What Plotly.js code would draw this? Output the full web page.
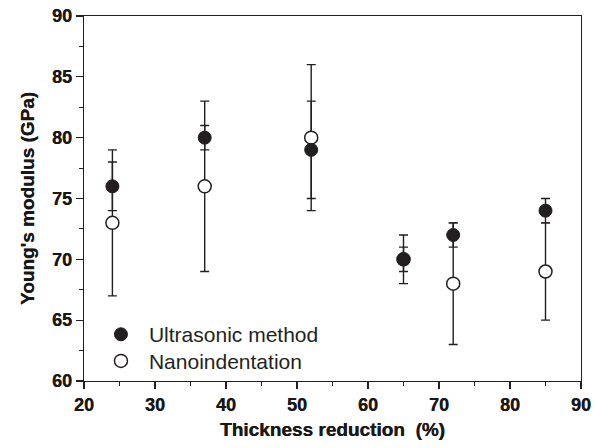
<!DOCTYPE html>
<html>
<head>
<meta charset="utf-8">
<script src="https://cdn.plot.ly/plotly-3.0.1.min.js"></script>
<style>
html,body{margin:0;padding:0;background:#fff;}
#chart{width:595px;height:448px;}
#chart .xtick text, #chart .ytick text{font-weight:700 !important;}
</style>
</head>
<body>
<div id="chart"></div>
<script>
const thickness = [24, 37, 52, 65, 72, 85];
const ultrasonic = [76, 80, 79, 70, 72, 74];
const ultrasonicErr = [2, 1, 4, 1, 1, 1];
const nano = [73, 76, 80, 70, 68, 69];
const nanoErr = [6, 7, 6, 2, 5, 4];
const seriesNames = ['Ultrasonic method', 'Nanoindentation'];
const xTickVals = [20, 30, 40, 50, 60, 70, 80, 90];
const yTickVals = [60, 65, 70, 75, 80, 85, 90];

const ink = '#231f20';
const fam = 'Liberation Sans, Arial, sans-serif';
const errStyle = {type: 'data', visible: true, color: ink, thickness: 1.4, width: 4.5};

const traces = [
  {
    x: thickness, y: ultrasonic, type: 'scatter', mode: 'markers',
    marker: {size: 1, color: 'rgba(0,0,0,0)'},
    error_y: Object.assign({array: ultrasonicErr}, errStyle),
    showlegend: false, hoverinfo: 'skip'
  },
  {
    x: thickness, y: nano, type: 'scatter', mode: 'markers', name: seriesNames[1],
    marker: {symbol: 'circle', size: 13, color: '#ffffff', line: {color: ink, width: 1.5}},
    error_y: Object.assign({array: nanoErr}, errStyle),
    legend: 'legend2'
  },
  {
    x: thickness, y: ultrasonic, type: 'scatter', mode: 'markers', name: seriesNames[0],
    marker: {symbol: 'circle', size: 13, color: ink, line: {color: ink, width: 1}},
    legend: 'legend'
  }
];

const tickFont = {family: fam, size: 18, color: '#1a1718', weight: 'bold', shadow: '0.35px 0 0 #1a1718'};
const titleFont = {family: fam, size: 19, color: '#1a1718', weight: 'bold', shadow: '0.35px 0 0 #1a1718'};

const axisCommon = {
  showline: true, linecolor: ink, linewidth: 1.4, mirror: true,
  ticks: 'outside', ticklen: 7, tickwidth: 1.2, tickcolor: ink,
  showgrid: false, zeroline: false, automargin: false,
  tickfont: tickFont
};

const legendCommon = {
  xanchor: 'left', yanchor: 'middle',
  bgcolor: 'rgba(0,0,0,0)', borderwidth: 0,
  font: {family: fam, size: 21, color: ink},
  itemsizing: 'trace', itemwidth: 46
};

const layout = {
  width: 595, height: 448,
  margin: {l: 84, r: 14, t: 16, b: 67},
  paper_bgcolor: '#ffffff', plot_bgcolor: '#ffffff',
  font: {family: fam, color: ink},
  showlegend: true,
  legend: Object.assign({}, legendCommon, {x: 0.018, y: 0.127}),
  legend2: Object.assign({}, legendCommon, {x: 0.018, y: 0.054}),
  xaxis: Object.assign({}, axisCommon, {
    range: [20, 90], tickmode: 'array', tickvals: xTickVals,
    ticktext: xTickVals.map(String),
    minor: {dtick: 5, tick0: 20, ticks: 'outside', ticklen: 4, tickcolor: ink, tickwidth: 1},
    title: {text: 'Thickness reduction\u00A0 (%)', standoff: 8, font: titleFont}
  }),
  yaxis: Object.assign({}, axisCommon, {
    range: [60, 90], tickmode: 'array', tickvals: yTickVals,
    ticktext: yTickVals.map(String),
    minor: {dtick: 2.5, tick0: 60, ticks: 'outside', ticklen: 4, tickcolor: ink, tickwidth: 1},
    title: {text: "Young's modulus (GPa)", standoff: 12, font: titleFont}
  })
};

Plotly.newPlot('chart', traces, layout, {displayModeBar: false, staticPlot: true});
</script>
</body>
</html>
